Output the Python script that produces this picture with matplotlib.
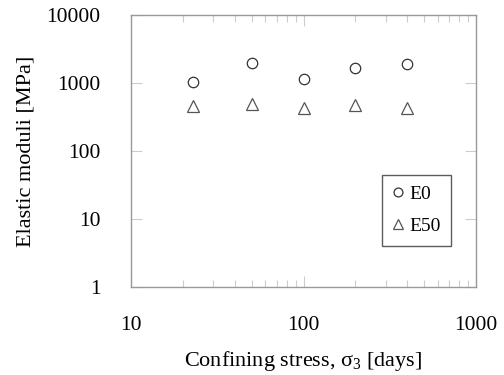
import matplotlib
matplotlib.use("Agg")
import matplotlib.pyplot as plt

plt.rcParams['font.family'] = ['Liberation Serif', 'DejaVu Serif']
plt.rcParams['mathtext.fontset'] = 'custom'
plt.rcParams['mathtext.rm'] = 'Liberation Serif'
plt.rcParams['mathtext.it'] = 'Liberation Serif:italic'

days = [23, 50, 100, 200, 400]
e0 = [1020, 2000, 1150, 1680, 1900]
e50 = [460, 485, 425, 470, 425]
x_ticks = [10, 100, 1000]
x_ticklabels = ['10', '100', '1000']
y_ticks = [1, 10, 100, 1000, 10000]
y_ticklabels = ['1', '10', '100', '1000', '10000']

fig = plt.figure(figsize=(5.04, 3.75), dpi=100)
ax = fig.add_axes([131/504, 1-287/375, (476-131)/504, (287-15)/375])

ax.plot(days, e0, linestyle='none', marker='o', markersize=7.5, markerfacecolor='none',
        markeredgecolor='#333333', markeredgewidth=0.9, label='E0')
ax.plot(days, e50, linestyle='none', marker='^', markersize=8.5, markerfacecolor='none',
        markeredgecolor='#555555', markeredgewidth=0.9, label='E50')

ax.set_xscale('log')
ax.set_yscale('log')
ax.set_xlim(10, 1000)
ax.set_ylim(1, 10000)
ax.set_xticks(x_ticks)
ax.set_xticklabels(x_ticklabels)
ax.set_yticks(y_ticks)
ax.set_yticklabels(y_ticklabels)
ax.yaxis.set_minor_locator(matplotlib.ticker.NullLocator())

for s in ax.spines.values():
    s.set_color('#999999')
    s.set_linewidth(1.0)

ax.tick_params(axis='both', which='major', direction='in', length=8, width=0.8,
               color='#cccccc', labelsize=15.5, top=True, right=True)
ax.tick_params(axis='x', which='major', pad=21)
ax.tick_params(axis='y', which='major', pad=22)
ax.tick_params(axis='x', which='minor', direction='in', length=5, width=0.8,
               color='#cccccc', top=True, bottom=True)

ax.set_xlabel('Confining stress, σ$_3$ [days]', fontsize=16, labelpad=10)
ax.set_ylabel('Elastic moduli [MPa]', fontsize=16, labelpad=8)

leg = ax.legend(loc='lower right', bbox_to_anchor=(0.928, 0.151), fontsize=14,
                frameon=True, fancybox=False, edgecolor='#333333', handlelength=0.6,
                handletextpad=0.25, borderpad=0.55, labelspacing=0.75, borderaxespad=0,
                markerscale=0.85)
leg.get_frame().set_linewidth(1.0)

fig.savefig('out.png', dpi=100)
